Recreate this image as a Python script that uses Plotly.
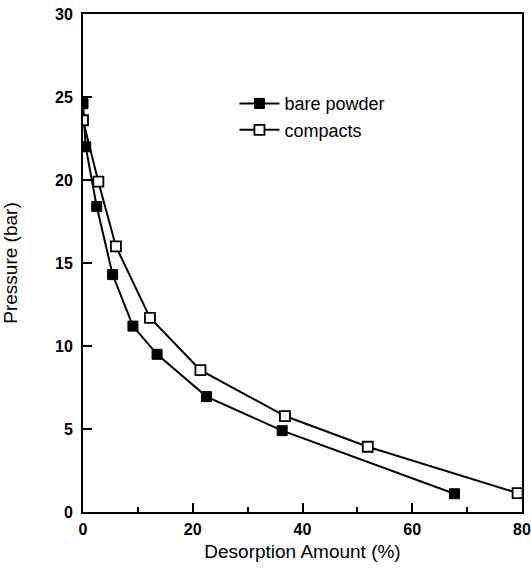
import plotly.graph_objects as go

bare_x = [0, 0.5, 2.5, 5.4, 9.1, 13.5, 22.5, 36.3, 67.7]
bare_y = [24.6, 22.0, 18.4, 14.3, 11.2, 9.5, 6.95, 4.9, 1.1]

comp_x = [0, 2.8, 6.0, 12.2, 21.4, 36.8, 51.9, 79.2]
comp_y = [23.6, 19.9, 16.0, 11.7, 8.55, 5.78, 3.93, 1.14]

x_ticks = [0, 20, 40, 60, 80]
y_ticks = [0, 5, 10, 15, 20, 25, 30]

fig = go.Figure()
fig.add_trace(go.Scatter(
    x=bare_x, y=bare_y, mode="lines+markers", name="bare powder",
    line=dict(color="black", width=2),
    marker=dict(symbol="square", size=10, color="black", line=dict(color="black", width=1)),
))
fig.add_trace(go.Scatter(
    x=comp_x, y=comp_y, mode="lines+markers", name="compacts",
    line=dict(color="black", width=2),
    marker=dict(symbol="square", size=10, color="white", line=dict(color="black", width=1.8)),
))

axis_common = dict(
    showline=True, linecolor="black", linewidth=2, mirror=True,
    ticks="inside", ticklen=9, tickwidth=2, tickcolor="black",
    showgrid=False, zeroline=False, automargin=False,
    tickfont=dict(family="Liberation Sans", size=16, color="black", weight="bold"),
)

fig.update_xaxes(
    range=[0, 80], tickvals=x_ticks, ticklabelstandoff=2,
    minor=dict(ticks="inside", ticklen=5, tickwidth=1.5, tickcolor="black", dtick=10, tick0=0),
    title=dict(text="Desorption Amount (%)", font=dict(family="Liberation Sans", size=19, color="black"), standoff=7),
    **axis_common,
)
fig.update_yaxes(
    range=[0, 30], tickvals=y_ticks, ticklabelstandoff=5,
    title=dict(text="Pressure (bar)", font=dict(family="Liberation Sans", size=19, color="black"), standoff=33),
    **axis_common,
)

fig.update_layout(
    width=531, height=571,
    margin=dict(l=83, r=9, t=14, b=59),
    paper_bgcolor="white", plot_bgcolor="white",
    showlegend=True,
    legend=dict(
        x=0.345, y=0.857, xanchor="left", yanchor="top",
        bgcolor="rgba(0,0,0,0)", borderwidth=0,
        font=dict(family="Liberation Sans", size=18, color="black"),
        itemwidth=40, tracegroupgap=0,
    ),
)

fig.write_html("out.html", config={"displayModeBar": False},
               post_script="document.body.style.margin='0';")
